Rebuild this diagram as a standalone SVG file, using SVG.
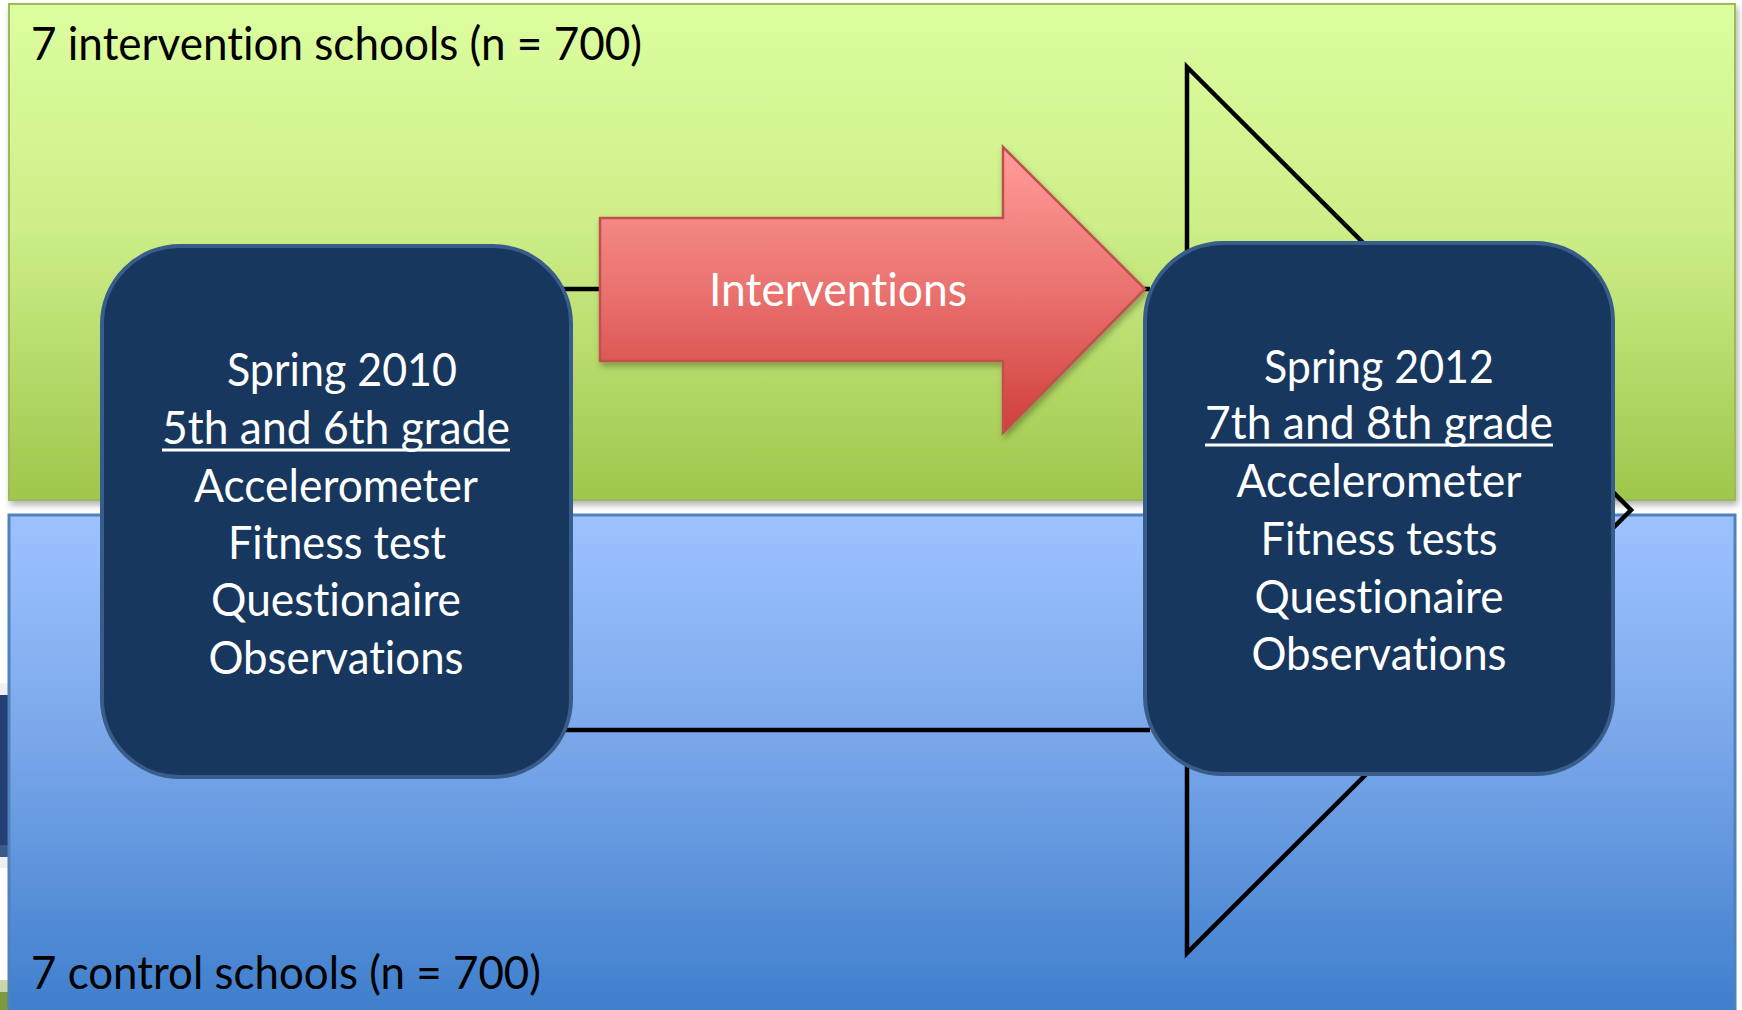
<svg xmlns="http://www.w3.org/2000/svg" width="1742" height="1010" viewBox="0 0 1742 1010">
  <defs>
    <linearGradient id="gGreen" x1="0" y1="0" x2="0" y2="1">
      <stop offset="0" stop-color="#ddfe9f"/>
      <stop offset="0.45" stop-color="#cdee88"/>
      <stop offset="1" stop-color="#a0c64c"/>
    </linearGradient>
    <linearGradient id="gBlue" x1="0" y1="0" x2="0" y2="1">
      <stop offset="0" stop-color="#9dc3fe"/>
      <stop offset="0.45" stop-color="#7aa7ea"/>
      <stop offset="1" stop-color="#3e7ecc"/>
    </linearGradient>
    <linearGradient id="gRed" x1="0" y1="0" x2="0" y2="1">
      <stop offset="0" stop-color="#ff9d9b"/>
      <stop offset="0.5" stop-color="#ea726f"/>
      <stop offset="1" stop-color="#cf3f3c"/>
    </linearGradient>
    <filter id="shadow" x="-5%" y="-5%" width="110%" height="115%">
      <feDropShadow dx="2" dy="4" stdDeviation="3" flood-color="#000" flood-opacity="0.3"/>
    </filter>
    <style>
      .lbl { font-family: Lato, "Open Sans", "Liberation Sans", sans-serif; font-size: 46px; font-variant-ligatures: none; font-feature-settings: "liga" 0, "dlig" 0; }
      .dark { fill: #000000; }
      .white { fill: #ffffff; text-anchor: middle; }
      .box { fill: #17375e; stroke: #385d8a; stroke-width: 4; }
      .conn { fill: none; stroke: #000000; stroke-width: 4.5; }
      .ul { stroke: #ffffff; stroke-width: 3; }
    </style>
  </defs>

  <rect x="0" y="0" width="1742" height="1010" fill="#ffffff"/>

  <g id="edge-artifacts">
    <rect x="0" y="683" width="9" height="185" fill="#eef0f3"/>
    <rect x="0" y="695" width="9" height="150" fill="#233f73"/>
    <rect x="0" y="845" width="9" height="12" fill="#3a5a8a"/>
    <rect x="0" y="980" width="9" height="30" fill="#c8d6a8"/>
    <rect x="0" y="992" width="9" height="18" fill="#7f9a3c"/>
  </g>

  <g id="intervention-schools">
    <rect x="9" y="4" width="1726" height="496" fill="url(#gGreen)" stroke="#9bbb59" stroke-width="2" filter="url(#shadow)"/>
    <text class="lbl dark" x="31" y="60" textLength="611" lengthAdjust="spacingAndGlyphs">7 intervention schools (n = 700)</text>
  </g>

  <g id="control-schools">
    <rect x="9" y="515" width="1726" height="500" fill="url(#gBlue)" stroke="#4f81bd" stroke-width="3"/>
    <text class="lbl dark" x="31" y="989" textLength="510" lengthAdjust="spacingAndGlyphs">7 control schools (n = 700)</text>
  </g>

  <g id="connectors">
    <line class="conn" x1="560" y1="289" x2="1150" y2="289"/>
    <line class="conn" x1="560" y1="730" x2="1150" y2="730"/>
    <polygon class="conn" points="1187,67 1631,510 1187,953"/>
  </g>

  <g id="interventions-arrow">
    <polygon points="600,218 1003,218 1003,147 1145,289 1003,433 1003,361 600,361" fill="url(#gRed)" stroke="#c0504d" stroke-width="2.5" filter="url(#shadow)"/>
    <text class="lbl white" x="838" y="306" textLength="258" lengthAdjust="spacingAndGlyphs">Interventions</text>
  </g>

  <g id="baseline-spring-2010">
    <rect class="box" x="102" y="246" width="469" height="531" rx="78" ry="78"/>
    <text class="lbl white" x="342" y="386" textLength="230" lengthAdjust="spacingAndGlyphs">Spring 2010</text>
    <text class="lbl white" x="336" y="444" textLength="348" lengthAdjust="spacingAndGlyphs">5th and 6th grade</text>
    <line class="ul" x1="162" y1="450" x2="510" y2="450"/>
    <text class="lbl white" x="336" y="502" textLength="284" lengthAdjust="spacingAndGlyphs">Accelerometer</text>
    <text class="lbl white" x="337" y="559" textLength="218" lengthAdjust="spacingAndGlyphs">Fitness test</text>
    <text class="lbl white" x="336" y="616" textLength="250" lengthAdjust="spacingAndGlyphs">Questionaire</text>
    <text class="lbl white" x="336" y="674" textLength="255" lengthAdjust="spacingAndGlyphs">Observations</text>
  </g>

  <g id="followup-spring-2012">
    <rect class="box" x="1145" y="243" width="468" height="531" rx="78" ry="78"/>
    <text class="lbl white" x="1379" y="383" textLength="230" lengthAdjust="spacingAndGlyphs">Spring 2012</text>
    <text class="lbl white" x="1379" y="439" textLength="348" lengthAdjust="spacingAndGlyphs">7th and 8th grade</text>
    <line class="ul" x1="1205" y1="445" x2="1553" y2="445"/>
    <text class="lbl white" x="1379" y="497" textLength="285" lengthAdjust="spacingAndGlyphs">Accelerometer</text>
    <text class="lbl white" x="1379" y="555" textLength="237" lengthAdjust="spacingAndGlyphs">Fitness tests</text>
    <text class="lbl white" x="1379" y="613" textLength="249" lengthAdjust="spacingAndGlyphs">Questionaire</text>
    <text class="lbl white" x="1379" y="670" textLength="255" lengthAdjust="spacingAndGlyphs">Observations</text>
  </g>
</svg>
